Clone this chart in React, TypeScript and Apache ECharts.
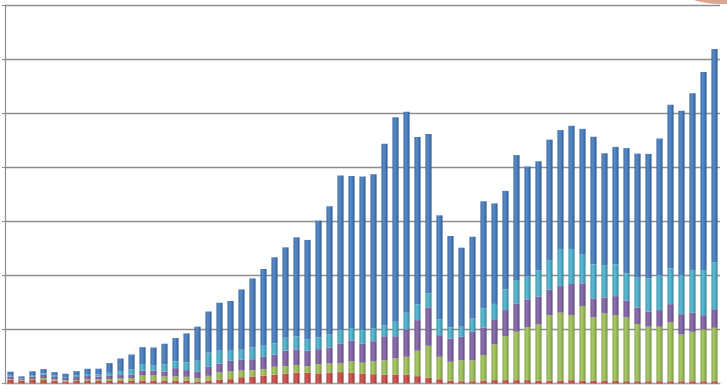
import React, { useEffect, useRef } from "react";
import * as echarts from "echarts";

const categories: string[] = Array.from({ length: 65 }, (_, i) => String(i + 1));

const seriesNames = ["S1", "S2", "S3", "S4", "S5"];

const red = [3.7,2.8,3.2,3.2,2.8,1.9,2.3,2.3,2.3,2.3,2.3,2.3,2.8,2.8,2.8,2.5,2.5,1.9,2.5,3.4,4.0,5.8,6.5,7.1,8.1,9.0,10.0,9.9,9.3,9.9,10.5,9.9,9.3,8.6,8.3,8.3,8.3,6.8,5.3,4.0,2.5,2.1,2.1,2.5,3.1,3.1,3.1,3.1,2.5,2.5,2.5,3.1,2.5,2.5,2.5,2.5,2.1,2.1,2.1,2.1,2.1,2.1,2.1,2.1,2.1];

const green = [0.5,0.5,0.9,1.9,0.9,0.9,0.9,1.4,1.4,1.9,2.3,2.8,4.6,4.6,3.7,4.0,3.7,3.1,4.6,6.8,7.1,6.2,5.8,6.2,7.4,7.1,7.1,6.1,8.6,8.6,8.1,10.5,9.9,12.0,13.2,14.8,16.4,23.5,29.6,20.7,17.6,19.4,19.4,23.7,33.1,40.7,44.8,48.8,52.1,60.7,63.0,59.9,69.1,58.6,62.3,60.7,59.0,52.8,50.4,50.4,54.4,43.2,45.7,47.9,49.4];

const purple = [2.3,0.9,2.3,2.8,2.3,2.3,2.8,3.2,2.8,2.8,3.2,3.2,4.6,4.6,4.6,7.7,6.2,6.2,8.3,8.3,9.9,9.9,10.2,11.4,11.1,14.2,14.4,14.3,13.9,14.8,18.5,19.3,17.9,18.5,22.2,20.6,25.3,28.3,35.5,20.0,21.6,21.7,26.3,25.6,23.2,24.1,26.2,25.9,25.6,23.8,24.6,29.0,21.0,17.6,14.8,17.6,15.5,15.2,13.9,15.4,16.9,18.8,17.6,13.2,17.2];

const cyan = [1.4,0.5,1.4,1.4,1.4,0.9,1.4,1.9,1.9,2.8,3.7,4.6,6.0,5.1,6.5,6.2,7.1,9.9,13.2,11.8,9.3,9.3,10.8,10.2,10.5,12.0,12.0,10.5,10.8,12.3,12.3,11.6,12.3,11.8,10.2,13.3,15.5,14.8,13.0,14.5,10.2,9.3,12.3,17.6,14.2,19.2,21.6,21.0,24.6,27.1,34.3,32.4,27.1,31.5,29.9,29.4,25.3,27.8,30.8,32.4,33.1,36.1,39.4,41.7,43.2];

const blue = [3.0,1.9,3.5,4.0,3.1,3.0,4.0,4.8,5.3,9.1,11.6,13.9,15.6,16.2,19.2,21.6,26.9,31.5,38.0,44.4,46.0,55.8,63.9,71.0,79.6,83.6,91.7,92.0,108.0,118.3,142.9,140.5,142.0,142.6,167.9,189.2,185.8,154.6,147.2,96.3,84.5,73.1,75.6,99.1,92.9,91.0,115.5,101.8,100.7,111.4,109.9,113.9,115.8,117.9,103.4,108.6,115.8,114.7,115.1,126.2,151.2,152.1,163.6,183.1,197.5];

const yMax = 350;
const yInterval = 50;

const palettes: [string, string, string][] = [
  ["#ad403d", "#d35f5b", "#9a3734"],
  ["#88a84a", "#abca69", "#7a9742"],
  ["#6c528d", "#8f74b2", "#604a7e"],
  ["#3c98b1", "#60bdd6", "#35879e"],
  ["#3b6ca6", "#5a8cca", "#315d94"],
];

function grad(p: [string, string, string]) {
  return new echarts.graphic.LinearGradient(0, 0, 1, 0, [
    { offset: 0, color: p[0] },
    { offset: 0.4, color: p[1] },
    { offset: 1, color: p[2] },
  ]);
}

export default function App() {
  const ref = useRef<HTMLDivElement>(null);
  useEffect(() => {
    if (!ref.current) return;
    const chart = echarts.init(ref.current, null, { renderer: "svg" });
    const data = [red, green, purple, cyan, blue];
    chart.setOption({
      animation: false,
      backgroundColor: "#ffffff",
      grid: { left: 5, right: 7, top: 5, bottom: 5.5, containLabel: false },
      xAxis: {
        type: "category",
        data: categories,
        boundaryGap: true,
        axisLabel: { show: false },
        axisTick: { show: false },
        axisLine: { show: true, lineStyle: { color: "#a6a6a6", width: 1 } },
      },
      yAxis: {
        type: "value",
        min: 0,
        max: yMax,
        interval: yInterval,
        axisLabel: { show: false },
        axisLine: { show: true, lineStyle: { color: "#8c8c8c", width: 1.2 } },
        axisTick: { show: true, inside: false, length: 3, lineStyle: { color: "#8c8c8c" } },
        splitLine: { show: true, lineStyle: { color: "#8e8e8e", width: 1.3 } },
      },
      series: data.map((d, i) => ({
        name: seriesNames[i],
        type: "bar",
        stack: "total",
        data: d,
        barWidth: "56%",
        itemStyle: { color: grad(palettes[i]) },
      })),
      graphic: [
        {
          type: "ellipse",
          shape: { cx: 722, cy: -10, rx: 40, ry: 14 },
          style: {
            fill: new echarts.graphic.LinearGradient(0, 0, 0, 1, [
              { offset: 0, color: "#c9826c" },
              { offset: 1, color: "#e0a994" },
            ]),
          },
        },
      ],
    });
    return () => chart.dispose();
  }, []);
  return (
    <div
      ref={ref}
      style={{ position: "fixed", left: 0, top: 0, width: 727, height: 389 }}
    />
  );
}
